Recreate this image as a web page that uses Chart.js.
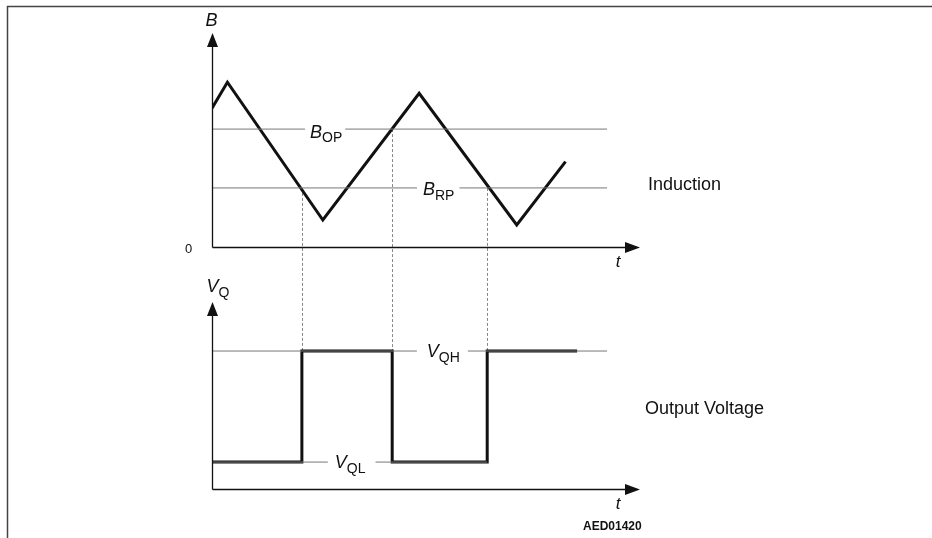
<!DOCTYPE html>
<html>
<head>
<meta charset="utf-8">
<script src="https://cdn.jsdelivr.net/npm/chart.js@4.4.0/dist/chart.umd.min.js"></script>
<style>
    html, body { margin: 0; padding: 0; background: #fff; }
    canvas { display: block; }
</style>
</head>
<body>
<canvas id="grafico" width="932" height="538"></canvas>
<script>
// induction B over time (arbitrary units, t 0..100)
const tInduction = [0, 3.6, 25.9, 48.4, 71.2, 82.6];
const bInduction = [64.8, 77.0, 12.6, 71.8, 10.3, 39.9];

// operate / release points
const bOperate = 55.1;
const bRelease = 27.6;
const tThresholdEnd = 92.3;

// switching instants and the threshold crossed there
const tSwitch = [21.0, 42.1, 64.3];
const bSwitch = [bRelease, bOperate, bRelease];

// output voltage (stepped)
const tOutput = [0, 21.0, 42.1, 64.3, 85.3];
const vOutput = [14.4, 73.8, 14.4, 73.8, 73.8];
const vHigh = 73.8;
const vLow = 14.4;

const FONT = '"Liberation Sans", Arial, sans-serif';
const PRETO = '#111';
const CINZA = '#777';

function linha(xs, ys) {
    return xs.map((x, i) => ({ x: x, y: ys[i] }));
}

function seta(ctx, x, y, dir) {
    // filled arrow head, tip at (x, y)
    ctx.beginPath();
    if (dir === 'up') {
        ctx.moveTo(x, y);
        ctx.lineTo(x - 5.5, y + 14);
        ctx.lineTo(x + 5.5, y + 14);
    } else {
        ctx.moveTo(x, y);
        ctx.lineTo(x - 15, y - 5.5);
        ctx.lineTo(x - 15, y + 5.5);
    }
    ctx.closePath();
    ctx.fill();
}

function rotulo(ctx, main, sub, x, yLinha, opts) {
    opts = opts || {};
    const dyMain = opts.dyMain !== undefined ? opts.dyMain : 7;
    const dySub = opts.dySub !== undefined ? opts.dySub : 12;
    ctx.font = 'italic 18px ' + FONT;
    const wMain = ctx.measureText(main).width;
    ctx.font = '14px ' + FONT;
    const wSub = ctx.measureText(sub).width;
    if (opts.gap) {
        ctx.fillStyle = '#fff';
        ctx.fillRect(x - opts.gap[0], yLinha - 3, wMain + wSub + opts.gap[0] + opts.gap[1], 6);
    }
    ctx.fillStyle = PRETO;
    ctx.textAlign = 'left';
    ctx.textBaseline = 'alphabetic';
    ctx.font = 'italic 18px ' + FONT;
    ctx.fillText(main, x, yLinha + dyMain);
    ctx.font = '14px ' + FONT;
    ctx.fillText(sub, x + wMain, yLinha + dySub);
}

const desenho = {
    id: 'desenho',
    beforeDatasetsDraw(chart) {
        const ctx = chart.ctx;
        const xs = chart.scales.x, yb = chart.scales.yB, yv = chart.scales.yV;
        ctx.save();
        // dashed connectors from the threshold crossings down to the output edges
        ctx.strokeStyle = '#888';
        ctx.lineWidth = 1;
        ctx.setLineDash([3, 2]);
        tSwitch.forEach((t, i) => {
            const px = Math.round(xs.getPixelForValue(t)) + 0.5;
            ctx.beginPath();
            ctx.moveTo(px, yb.getPixelForValue(bSwitch[i]));
            ctx.lineTo(px, yv.getPixelForValue(vHigh));
            ctx.stroke();
        });
        ctx.restore();
    },
    afterDatasetsDraw(chart) {
        const ctx = chart.ctx;
        const xs = chart.scales.x, yb = chart.scales.yB, yv = chart.scales.yV;
        ctx.save();

        // frame
        ctx.strokeStyle = '#444';
        ctx.lineWidth = 1.5;
        ctx.beginPath();
        ctx.moveTo(7.5, 538);
        ctx.lineTo(7.5, 6.5);
        ctx.lineTo(932, 6.5);
        ctx.stroke();

        // axes
        const x0 = Math.round(xs.getPixelForValue(0)) + 0.5;
        const xEnd = xs.getPixelForValue(100);
        ctx.strokeStyle = PRETO;
        ctx.fillStyle = PRETO;
        ctx.lineWidth = 1.3;
        [[yb, 0, 100], [yv, 0, 100]].forEach(([sc, lo, hi]) => {
            const yBase = Math.round(sc.getPixelForValue(lo)) + 0.5;
            const yTop = sc.getPixelForValue(hi);
            ctx.beginPath();
            ctx.moveTo(x0, yBase);
            ctx.lineTo(x0, yTop + 10);
            ctx.moveTo(x0, yBase);
            ctx.lineTo(xEnd - 10, yBase);
            ctx.stroke();
            seta(ctx, x0, yTop, 'up');
            seta(ctx, xEnd, yBase, 'right');
        });

        // axis labels
        ctx.textBaseline = 'middle';
        ctx.textAlign = 'left';
        ctx.font = 'italic 18px ' + FONT;
        ctx.fillText('B', x0 - 7, yb.getPixelForValue(100) - 12);
        ctx.font = '13px ' + FONT;
        ctx.textAlign = 'center';
        ctx.fillText('0', x0 - 24, yb.getPixelForValue(0) + 2);
        ctx.font = 'italic 17px ' + FONT;
        ctx.fillText('t', xEnd - 22, yb.getPixelForValue(0) + 15);
        ctx.fillText('t', xEnd - 22, yv.getPixelForValue(0) + 15);
        rotulo(ctx, 'V', 'Q', x0 - 6, yv.getPixelForValue(100) - 16, { dyMain: 6, dySub: 11 });

        // threshold labels (break the thin lines)
        rotulo(ctx, 'B', 'OP', xs.getPixelForValue(22.9), yb.getPixelForValue(bOperate), { gap: [5, 3], dyMain: 9, dySub: 13 });
        rotulo(ctx, 'B', 'RP', xs.getPixelForValue(49.3), yb.getPixelForValue(bRelease), { gap: [6, 5] });
        rotulo(ctx, 'V', 'QH', xs.getPixelForValue(50.2), yv.getPixelForValue(vHigh), { gap: [10, 8], dyMain: 6, dySub: 11 });
        rotulo(ctx, 'V', 'QL', xs.getPixelForValue(28.7), yv.getPixelForValue(vLow), { gap: [7, 10], dyMain: 6, dySub: 11 });

        // panel titles
        ctx.fillStyle = PRETO;
        ctx.textAlign = 'left';
        ctx.textBaseline = 'middle';
        ctx.font = '18px ' + FONT;
        ctx.fillText('Induction', 648, yb.getPixelForValue(bRelease) - 3);
        ctx.fillText('Output Voltage', 645, 409);
        ctx.font = 'bold 12px ' + FONT;
        ctx.fillText('AED01420', 583, 527);

        ctx.restore();
    }
};

const grafico = new Chart(document.getElementById('grafico'), {
    type: 'line',
    data: {
        datasets: [
            {
                label: 'B_OP',
                data: linha([0, tThresholdEnd], [bOperate, bOperate]),
                yAxisID: 'yB',
                borderColor: CINZA,
                borderWidth: 1,
            },
            {
                label: 'B_RP',
                data: linha([0, tThresholdEnd], [bRelease, bRelease]),
                yAxisID: 'yB',
                borderColor: CINZA,
                borderWidth: 1,
            },
            {
                label: 'V_QH',
                data: linha([0, tThresholdEnd], [vHigh, vHigh]),
                yAxisID: 'yV',
                borderColor: CINZA,
                borderWidth: 1,
            },
            {
                label: 'V_QL',
                data: linha([0, tSwitch[2]], [vLow, vLow]),
                yAxisID: 'yV',
                borderColor: CINZA,
                borderWidth: 1,
            },
            {
                label: 'Induction',
                data: linha(tInduction, bInduction),
                yAxisID: 'yB',
                borderColor: PRETO,
                borderWidth: 3,
                borderJoinStyle: 'miter',
            },
            {
                label: 'Output Voltage',
                data: linha(tOutput, vOutput),
                yAxisID: 'yV',
                stepped: 'before',
                borderColor: PRETO,
                borderWidth: 3,
            },
        ]
    },
    options: {
        responsive: false,
        animation: false,
        devicePixelRatio: 1,
        parsing: false,
        layout: { padding: { left: 212, right: 292, top: 33, bottom: 49 } },
        elements: { point: { radius: 0 }, line: { tension: 0 } },
        plugins: { legend: { display: false }, tooltip: { enabled: false }, title: { display: false } },
        scales: {
            x: { type: 'linear', min: 0, max: 100, display: false },
            yB: { type: 'linear', min: -113.1, max: 100, display: false },
            yV: { type: 'linear', min: 0, max: 243.9, display: false },
        }
    },
    plugins: [desenho]
});
</script>
</body>
</html>
